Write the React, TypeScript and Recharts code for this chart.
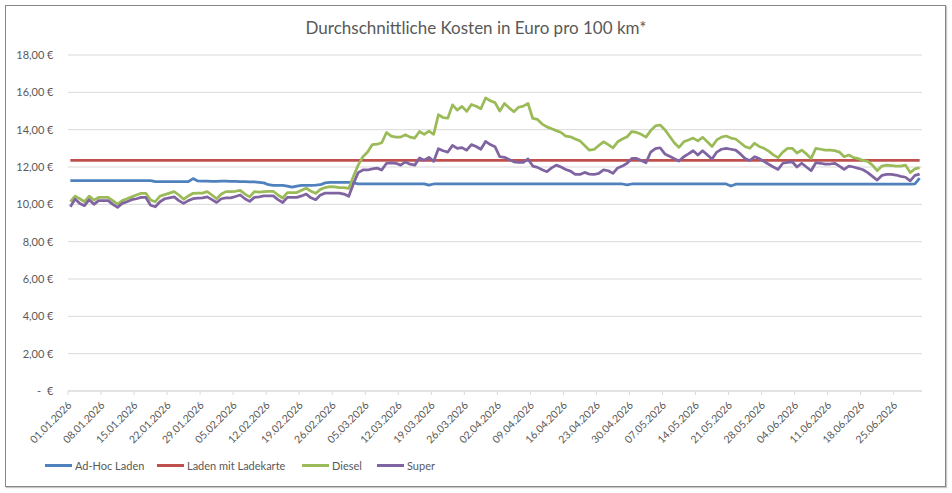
import React from 'react';
import { LineChart, Line, XAxis, YAxis, CartesianGrid } from 'recharts';

// ---------- data ----------
const startDate = '2026-01-01';
const dayCount = 181;

const adHocLaden = [
  11.27, 11.27, 11.27, 11.27, 11.27, 11.27, 11.27, 11.27, 11.27, 11.27,
  11.27, 11.27, 11.27, 11.27, 11.27, 11.27, 11.27, 11.27, 11.22, 11.22,
  11.22, 11.22, 11.22, 11.22, 11.22, 11.22, 11.38, 11.25, 11.24, 11.24,
  11.23, 11.23, 11.24, 11.24, 11.23, 11.23, 11.22, 11.22, 11.2, 11.2,
  11.18, 11.15, 11.05, 11.02, 11.02, 11.02, 10.98, 10.92, 10.98, 11.02,
  11.02, 11.02, 11.03, 11.05, 11.15, 11.17, 11.17, 11.17, 11.17, 11.17,
  11.15, 11.1, 11.1, 11.1, 11.1, 11.1, 11.1, 11.1, 11.1, 11.1,
  11.1, 11.1, 11.1, 11.1, 11.1, 11.1, 11.03, 11.09, 11.09, 11.09,
  11.09, 11.09, 11.09, 11.09, 11.09, 11.09, 11.09, 11.09, 11.09, 11.09,
  11.09, 11.09, 11.09, 11.09, 11.09, 11.09, 11.09, 11.09, 11.09, 11.09,
  11.09, 11.09, 11.09, 11.09, 11.09, 11.09, 11.09, 11.09, 11.09, 11.09,
  11.09, 11.09, 11.09, 11.09, 11.09, 11.09, 11.09, 11.09, 11.04, 11.09,
  11.09, 11.09, 11.09, 11.09, 11.09, 11.09, 11.09, 11.09, 11.09, 11.09,
  11.09, 11.09, 11.09, 11.09, 11.09, 11.09, 11.09, 11.09, 11.09, 11.09,
  10.98, 11.08, 11.08, 11.08, 11.08, 11.08, 11.08, 11.08, 11.08, 11.08,
  11.08, 11.08, 11.08, 11.08, 11.08, 11.08, 11.08, 11.08, 11.08, 11.08,
  11.08, 11.08, 11.08, 11.08, 11.08, 11.08, 11.08, 11.08, 11.08, 11.08,
  11.08, 11.08, 11.08, 11.08, 11.08, 11.08, 11.08, 11.08, 11.08, 11.09,
  11.4,
];

const ladenMitLadekarte = [
  12.35, 12.35, 12.35, 12.35, 12.35, 12.35, 12.35, 12.35, 12.35, 12.35,
  12.35, 12.35, 12.35, 12.35, 12.35, 12.35, 12.35, 12.35, 12.35, 12.35,
  12.35, 12.35, 12.35, 12.35, 12.35, 12.35, 12.35, 12.35, 12.35, 12.35,
  12.35, 12.35, 12.35, 12.35, 12.35, 12.35, 12.35, 12.35, 12.35, 12.35,
  12.35, 12.35, 12.35, 12.35, 12.35, 12.35, 12.35, 12.35, 12.35, 12.35,
  12.35, 12.35, 12.35, 12.35, 12.35, 12.35, 12.35, 12.35, 12.35, 12.35,
  12.35, 12.35, 12.35, 12.35, 12.35, 12.35, 12.35, 12.35, 12.35, 12.35,
  12.35, 12.35, 12.35, 12.35, 12.35, 12.35, 12.35, 12.35, 12.35, 12.35,
  12.35, 12.35, 12.35, 12.35, 12.35, 12.35, 12.35, 12.35, 12.35, 12.35,
  12.35, 12.35, 12.35, 12.35, 12.35, 12.35, 12.35, 12.35, 12.35, 12.35,
  12.35, 12.35, 12.35, 12.35, 12.35, 12.35, 12.35, 12.35, 12.35, 12.35,
  12.35, 12.35, 12.35, 12.35, 12.35, 12.35, 12.35, 12.35, 12.35, 12.35,
  12.35, 12.35, 12.35, 12.35, 12.35, 12.35, 12.35, 12.35, 12.35, 12.35,
  12.35, 12.35, 12.35, 12.35, 12.35, 12.35, 12.35, 12.35, 12.35, 12.35,
  12.35, 12.35, 12.35, 12.35, 12.35, 12.35, 12.35, 12.35, 12.35, 12.35,
  12.35, 12.35, 12.35, 12.35, 12.35, 12.35, 12.35, 12.35, 12.35, 12.35,
  12.35, 12.35, 12.35, 12.35, 12.35, 12.35, 12.35, 12.35, 12.35, 12.35,
  12.35, 12.35, 12.35, 12.35, 12.35, 12.35, 12.35, 12.35, 12.35, 12.35,
  12.35,
];

const diesel = [
  10.14, 10.44, 10.3, 10.14, 10.44, 10.23, 10.37, 10.37, 10.37, 10.2,
  10.01, 10.2, 10.3, 10.4, 10.5, 10.59, 10.59, 10.23, 10.14, 10.44,
  10.52, 10.6, 10.68, 10.5, 10.27, 10.45, 10.59, 10.6, 10.6, 10.68,
  10.5, 10.3, 10.55, 10.68, 10.68, 10.7, 10.75, 10.55, 10.4, 10.68,
  10.66, 10.68, 10.7, 10.7, 10.5, 10.34, 10.63, 10.63, 10.63, 10.75,
  10.86, 10.7, 10.59, 10.8, 10.9, 10.95, 10.93, 10.9, 10.9, 10.85,
  11.5, 12.1, 12.55, 12.8, 13.2, 13.22, 13.3, 13.85, 13.65, 13.6,
  13.6, 13.73, 13.6, 13.55, 13.9, 13.75, 13.92, 13.75, 14.8, 14.65,
  14.62, 15.33, 15.05, 15.25, 14.98, 15.35, 15.25, 15.12, 15.7, 15.55,
  15.45, 15.0, 15.4, 15.17, 14.96, 15.2, 15.26, 15.4, 14.6, 14.55,
  14.3, 14.15, 14.05, 13.95, 13.85, 13.65, 13.62, 13.5, 13.4, 13.15,
  12.9, 12.94, 13.15, 13.35, 13.2, 13.03, 13.35, 13.5, 13.62, 13.9,
  13.85, 13.75, 13.6, 13.95, 14.2, 14.25, 14.0, 13.65, 13.3, 13.05,
  13.35, 13.45, 13.55, 13.4, 13.59, 13.35, 13.1, 13.45, 13.6, 13.66,
  13.55, 13.5, 13.3, 13.1, 13.0, 13.27, 13.1, 13.0, 12.85, 12.65,
  12.5, 12.8, 13.0, 13.0, 12.75, 12.9, 12.7, 12.46, 13.0, 12.95,
  12.9, 12.9, 12.88, 12.8, 12.55, 12.64, 12.5, 12.45, 12.35, 12.3,
  12.1, 11.8, 12.05, 12.1, 12.08, 12.05, 12.05, 12.1, 11.7, 11.9,
  11.96,
];

const superBenzin = [
  9.87, 10.28, 10.05, 9.93, 10.25, 10.0, 10.2, 10.2, 10.2, 10.0,
  9.84, 10.05, 10.14, 10.25, 10.3, 10.37, 10.37, 9.95, 9.87, 10.14,
  10.3, 10.35, 10.4, 10.2, 10.05, 10.2, 10.3, 10.33, 10.35, 10.4,
  10.25, 10.1, 10.3, 10.35, 10.35, 10.42, 10.5, 10.3, 10.16, 10.37,
  10.4, 10.45, 10.45, 10.45, 10.25, 10.1, 10.37, 10.37, 10.37, 10.45,
  10.55, 10.35, 10.25, 10.5, 10.6, 10.6, 10.6, 10.6, 10.55, 10.43,
  11.1, 11.7, 11.84, 11.84, 11.9, 11.94, 11.84, 12.2, 12.22, 12.2,
  12.1, 12.27, 12.15, 12.1, 12.48, 12.36, 12.52, 12.3, 12.98, 12.87,
  12.8, 13.16, 13.0, 13.04, 12.9, 13.2, 13.1, 12.95, 13.37, 13.2,
  13.09, 12.55, 12.52, 12.4, 12.28, 12.25, 12.25, 12.43, 12.05, 11.98,
  11.85, 11.75, 11.95, 12.1, 12.0, 11.87, 11.78, 11.6, 11.6, 11.71,
  11.62, 11.6, 11.66, 11.85, 11.8, 11.66, 11.95, 12.05, 12.2, 12.46,
  12.46, 12.35, 12.23, 12.8, 12.98, 13.03, 12.7, 12.58, 12.45, 12.32,
  12.55, 12.7, 12.87, 12.64, 12.87, 12.65, 12.43, 12.8, 12.95, 13.0,
  12.95, 12.9, 12.7, 12.45, 12.35, 12.55, 12.45, 12.3, 12.15, 12.0,
  11.87, 12.2, 12.25, 12.28, 12.0, 12.2, 12.0, 11.8, 12.23, 12.2,
  12.15, 12.16, 12.2, 12.05, 11.87, 12.05, 12.0, 11.93, 11.85, 11.7,
  11.5, 11.3, 11.55, 11.6, 11.6, 11.57, 11.5, 11.45, 11.26, 11.55,
  11.62,
];

const yTicks = [0, 2, 4, 6, 8, 10, 12, 14, 16, 18];
const xTickStep = 7;

const seriesKeys = ['adHoc', 'karte', 'diesel', 'super'];
const seriesNames = ['Ad-Hoc Laden', 'Laden mit Ladekarte', 'Diesel', 'Super'];
const seriesColors = ['#4F81BD', '#C0504D', '#9BBB59', '#8064A2'];

const titleText = 'Durchschnittliche Kosten in Euro pro 100 km*';

// ---------- derived ----------
function makeDates(start: string, n: number): string[] {
  const [y, m, d] = start.split('-').map(Number);
  const out: string[] = [];
  for (let i = 0; i < n; i++) {
    const dt = new Date(Date.UTC(y, m - 1, d + i));
    const dd = String(dt.getUTCDate()).padStart(2, '0');
    const mm = String(dt.getUTCMonth() + 1).padStart(2, '0');
    out.push(`${dd}.${mm}.${dt.getUTCFullYear()}`);
  }
  return out;
}

const dates = makeDates(startDate, dayCount);
const seriesValues = [adHocLaden, ladenMitLadekarte, diesel, superBenzin];
const data = dates.map((date, i) => {
  const row: Record<string, any> = { date };
  seriesKeys.forEach((k, s) => {
    row[k] = seriesValues[s][i];
  });
  return row;
});
const xTicks = dates.filter((_, i) => i % xTickStep === 0);

// ---------- layout ----------
const W = 952;
const H = 493;
const MARGIN = { top: 55, right: 30, bottom: 42, left: 0 };
const Y_AXIS_W = 68;
const X_AXIS_H = 60;
const PLOT_W = W - MARGIN.left - MARGIN.right - Y_AXIS_W;
const HALF = PLOT_W / dayCount / 2;
const FONT = 'Lato, "Open Sans", sans-serif';
const TEXT_COLOR = '#595959';
const GRID_COLOR = '#d9d9d9';

const XTick = (props: any) => {
  const { x, y, payload } = props;
  return (
    <g>
      <line x1={x - HALF} y1={y} x2={x - HALF} y2={y + 4} stroke={GRID_COLOR} strokeWidth={1} />
      <text
        x={0}
        y={0}
        transform={`translate(${x + 2},${y + 15}) rotate(-45)`}
        textAnchor="end"
        fontSize={10.5}
        fill={TEXT_COLOR}
        stroke="none"
        fontFamily={FONT}
      >
        {payload.value}
      </text>
    </g>
  );
};

const YTick = (props: any) => {
  const { x, y, payload } = props;
  const v = payload.value as number;
  if (v === 0) {
    return (
      <g fontSize={11} fill={TEXT_COLOR} stroke="none" fontFamily={FONT}>
        <text x={x - 27} y={y} dy={4} textAnchor="end">-</text>
        <text x={x - 14.5} y={y} dy={4} textAnchor="end">€</text>
      </g>
    );
  }
  return (
    <text x={x - 14.5} y={y} dy={4} textAnchor="end" fontSize={11} fill={TEXT_COLOR} stroke="none" fontFamily={FONT}>
      {v.toFixed(2).replace('.', ',') + ' €'}
    </text>
  );
};

const legendLefts = [45, 157, 302, 377];

export default function App() {
  return (
    <div
      style={{
        position: 'absolute',
        left: 0,
        top: 0,
        width: W,
        height: H,
        background: '#fff',
        fontFamily: FONT,
      }}
    >
      <div
        style={{
          position: 'absolute',
          left: 5,
          top: 5,
          width: 939,
          height: 480,
          border: '1px solid #868686',
          boxShadow: '1px 1px 1px #c8c8c8',
        }}
      />
      <div
        style={{
          position: 'absolute',
          left: 0,
          top: 17,
          width: W,
          textAlign: 'center',
          fontSize: 17,
          color: TEXT_COLOR,
          lineHeight: '22px',
        }}
      >
        {titleText}
      </div>
      <div style={{ position: 'absolute', left: 0, top: 0 }}>
        <LineChart width={W} height={H} data={data} margin={MARGIN}>
          <CartesianGrid vertical={false} stroke={GRID_COLOR} strokeWidth={1} />
          <XAxis
            dataKey="date"
            ticks={xTicks}
            interval={0}
            height={X_AXIS_H}
            tickLine={false}
            tickSize={0}
            tickMargin={0}
            axisLine={{ stroke: GRID_COLOR }}
            padding={{ left: HALF, right: HALF }}
            tick={<XTick />}
          />
          <YAxis
            width={Y_AXIS_W}
            domain={[0, 18]}
            ticks={yTicks}
            interval={0}
            axisLine={false}
            tickLine={false}
            tickSize={0}
            tickMargin={0}
            tick={<YTick />}
          />
          {seriesKeys.map((k, i) => (
            <Line
              key={k}
              type="linear"
              dataKey={k}
              name={seriesNames[i]}
              stroke={seriesColors[i]}
              strokeWidth={2.75}
              strokeLinejoin="round"
              dot={false}
              activeDot={false}
              isAnimationActive={false}
            />
          ))}
        </LineChart>
      </div>
      {seriesNames.map((name, i) => (
        <div
          key={name}
          style={{
            position: 'absolute',
            left: legendLefts[i],
            top: 457,
            height: 16,
            display: 'flex',
            alignItems: 'center',
            fontSize: 11,
            color: TEXT_COLOR,
            whiteSpace: 'nowrap',
          }}
        >
          <span
            style={{
              display: 'inline-block',
              width: 27,
              height: 3,
              background: seriesColors[i],
              marginRight: 3,
            }}
          />
          {name}
        </div>
      ))}
    </div>
  );
}
